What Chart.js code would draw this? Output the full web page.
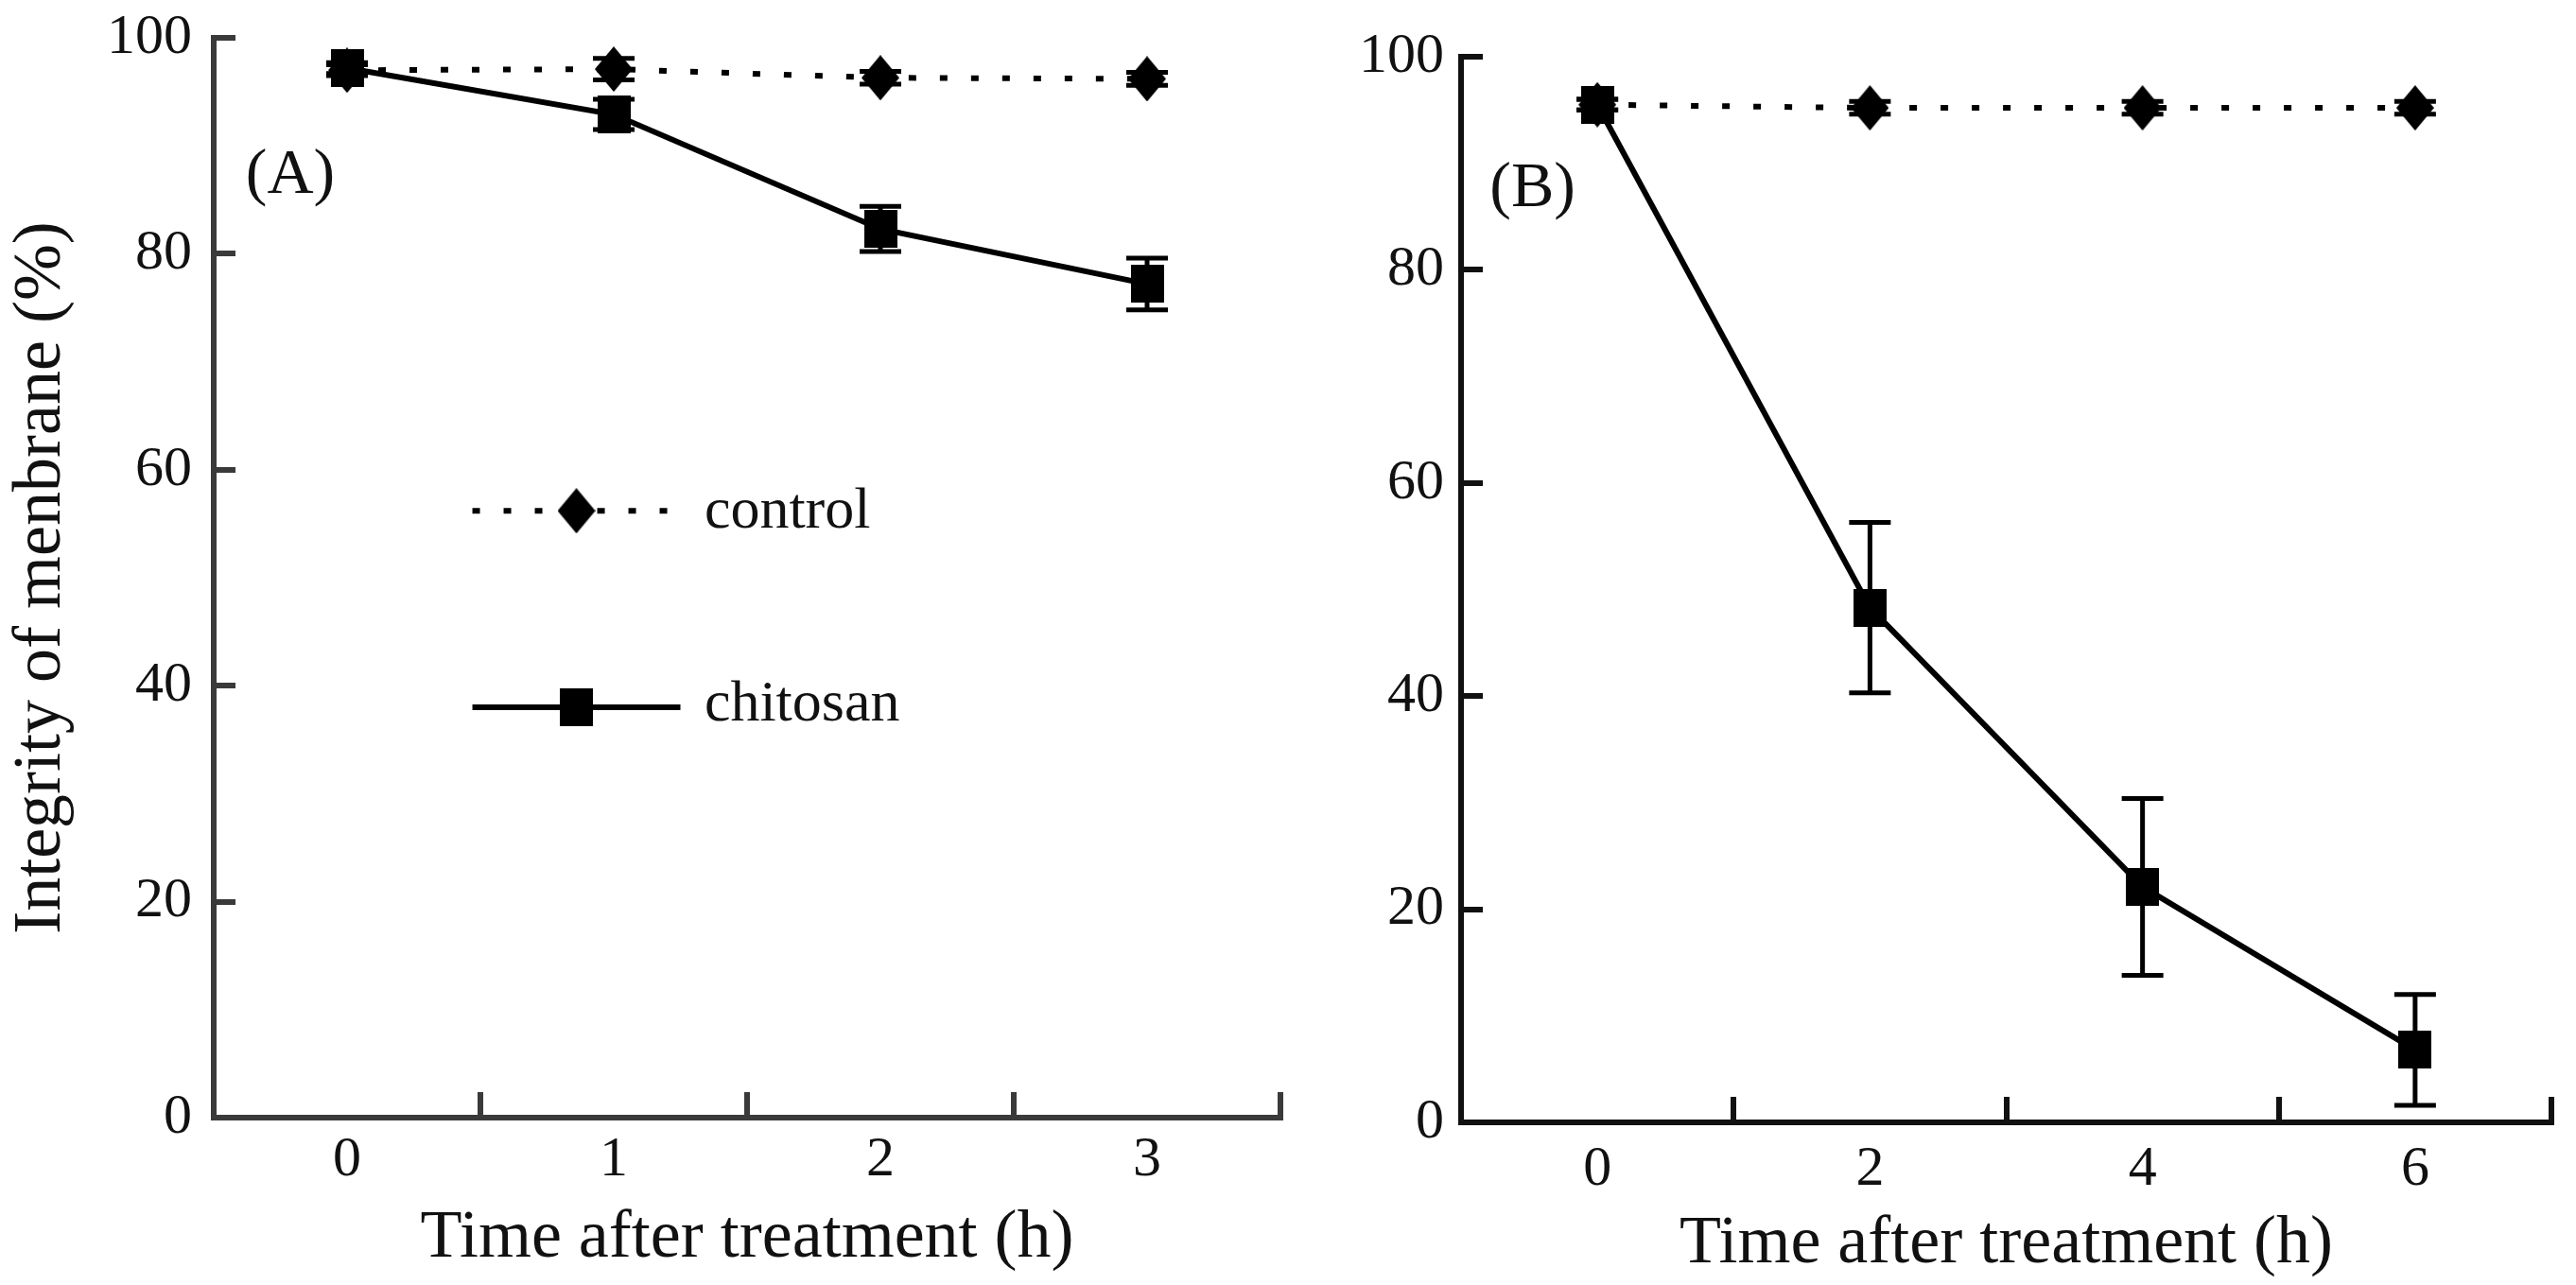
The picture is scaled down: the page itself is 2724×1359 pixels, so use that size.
<!DOCTYPE html>
<html>
<head>
<meta charset="utf-8">
<title>Integrity of membrane</title>
<script src="https://cdn.jsdelivr.net/npm/chart.js@4.4.1/dist/chart.umd.min.js"></script>
<style>
  html, body { margin: 0; padding: 0; background: #fff; }
  body { width: 2724px; height: 1359px; position: relative; overflow: hidden; }
  .panel { position: absolute; top: 0; height: 1359px; }
  #panelA { left: 0; width: 1380px; }
  #panelB { left: 1380px; width: 1344px; }
</style>
</head>
<body>
<div class="panel" id="panelA"><canvas id="chartA"></canvas></div>
<div class="panel" id="panelB"><canvas id="chartB"></canvas></div>
<script>
// (A) 0 ~ 3 h
const hoursA = [0, 1, 2, 3];
const controlA = [97.0, 97.1, 96.3, 96.2];
const controlErrA = [0.5, 1.0, 0.6, 0.6];
const chitosanA = [97.2, 92.9, 82.3, 77.2];
const chitosanErrA = [0.5, 1.4, 2.1, 2.4];

// (B) 0 ~ 6 h
const hoursB = [0, 2, 4, 6];
const controlB = [95.5, 95.2, 95.2, 95.2];
const controlErrB = [0.5, 0.6, 0.6, 0.6];
const chitosanB = [95.5, 48.3, 22.1, 6.8];
const chitosanErrB = [0.5, 8.0, 8.3, 5.2];

const yTicks = [0, 20, 40, 60, 80, 100];
const seriesNames = ['control', 'chitosan'];
const xTitle = 'Time after treatment (h)';
const yTitle = 'Integrity of menbrane (%)';

Chart.defaults.font.family = '"Liberation Serif", "Times New Roman", serif';
Chart.defaults.color = '#111';

document.addEventListener("DOMContentLoaded", function () {
	panel_a_chart();
	panel_b_chart();
});

function toPoints(xs, ys) {
  return xs.map(function (x, i) { return { x: x, y: ys[i] }; });
}

// black marker drawn once, used as pointStyle
function makeMarker(shape, w, h) {
  const c = document.createElement('canvas');
  c.width = w; c.height = h;
  const g = c.getContext('2d');
  g.fillStyle = '#000';
  if (shape === 'square') {
    g.fillRect(0, 0, w, h);
  } else {
    g.beginPath();
    g.moveTo(w / 2, 0); g.lineTo(w, h / 2); g.lineTo(w / 2, h); g.lineTo(0, h / 2);
    g.closePath(); g.fill();
  }
  return c;
}
const diamond = makeMarker('diamond', 40, 48);
const square = makeMarker('square', 35, 40);

// error bars (value +- err) with caps
const errorBars = {
  id: 'errorBars',
  afterDatasetsDraw(chart, args, opts) {
    const ctx = chart.ctx, ys = chart.scales.y;
    ctx.save();
    ctx.strokeStyle = '#000';
    ctx.lineWidth = 5;
    chart.data.datasets.forEach(function (ds, i) {
      if (!ds.errors) return;
      chart.getDatasetMeta(i).data.forEach(function (pt, j) {
        const v = ds.data[j].y, e = ds.errors[j];
        const y1 = ys.getPixelForValue(v + e), y2 = ys.getPixelForValue(v - e);
        ctx.beginPath();
        ctx.moveTo(pt.x, y1); ctx.lineTo(pt.x, y2);
        ctx.moveTo(pt.x - 22, y1); ctx.lineTo(pt.x + 22, y1);
        ctx.moveTo(pt.x - 22, y2); ctx.lineTo(pt.x + 22, y2);
        ctx.stroke();
      });
    });
    ctx.restore();
  }
};

// in-plot key (line sample + marker + name) and panel tag
const plotKey = {
  id: 'plotKey',
  afterDraw(chart, args, opts) {
    const ctx = chart.ctx, xs = chart.scales.x, ys = chart.scales.y;
    ctx.save();
    (opts.rows || []).forEach(function (row) {
      const ds = chart.data.datasets[row.dataset];
      const y = ys.getPixelForValue(row.y);
      ctx.strokeStyle = ds.borderColor;
      ctx.lineWidth = ds.borderWidth;
      ctx.setLineDash(ds.borderDash || []);
      ctx.beginPath();
      ctx.moveTo(xs.getPixelForValue(opts.from), y);
      ctx.lineTo(xs.getPixelForValue(opts.to), y);
      ctx.stroke();
      ctx.setLineDash([]);
      const img = ds.pointStyle, xm = xs.getPixelForValue(opts.mark);
      ctx.drawImage(img, xm - img.width / 2, y - img.height / 2);
      ctx.font = '62px "Liberation Serif", "Times New Roman", serif';
      ctx.fillStyle = '#111';
      ctx.textBaseline = 'alphabetic';
      ctx.fillText(ds.label, xs.getPixelForValue(opts.text), ys.getPixelForValue(row.textY));
    });
    if (opts.tag) {
      ctx.font = '68px "Liberation Serif", "Times New Roman", serif';
      ctx.fillStyle = '#111';
      ctx.textBaseline = 'alphabetic';
      ctx.fillText(opts.tag.text, xs.getPixelForValue(opts.tag.x), ys.getPixelForValue(opts.tag.y));
    }
    ctx.restore();
  }
};

function build_panel(id, p) {
  const data = {
    datasets: [{
      label: seriesNames[0],
      data: toPoints(p.hours, p.control),
      errors: p.controlErr,
      borderColor: '#000',
      borderWidth: 6,
      borderDash: [8, 25],
      borderCapStyle: 'butt',
      pointStyle: diamond,
      pointRadius: 20,
      tension: 0,
      order: 1
    }, {
      label: seriesNames[1],
      data: toPoints(p.hours, p.chitosan),
      errors: p.chitosanErr,
      borderColor: '#000',
      borderWidth: 6,
      pointStyle: square,
      pointRadius: 20,
      tension: 0,
      order: 0
    }]
  };

  const options = {
    responsive: true,
    maintainAspectRatio: false,
    animation: false,
    layout: { padding: { left: 0, right: 3, top: p.top, bottom: 0 } },
    plugins: {
      legend: { display: false },
      tooltip: { enabled: false },
      plotKey: p.key
    },
    scales: {
      x: {
        type: 'linear',
        min: p.xMin,
        max: p.xMax,
        afterFit: function (s) { s.height = p.xHeight; s.paddingLeft = 0; s.paddingRight = 0; },
        ticks: {
          stepSize: p.step,
          autoSkip: false,
          maxRotation: 0,
          padding: p.xPad,
          font: { size: 60, lineHeight: 1.2 },
          callback: function (v) { return p.hours.includes(v) ? String(v) : ''; }
        },
        grid: {
          drawOnChartArea: false,
          tickLength: -27,
          lineWidth: 6,
          color: function (c) {
            return (c.tick && p.hours.includes(c.tick.value)) ? 'rgba(0,0,0,0)' : p.axisColor;
          }
        },
        border: { color: p.axisColor, width: 6 },
        title: {
          display: true,
          text: xTitle,
          font: { size: 72, lineHeight: 1.2 },
          padding: { top: 0, bottom: p.titlePad }
        }
      },
      y: {
        min: 0,
        max: 100,
        afterFit: function (s) { s.width = p.yWidth; s.paddingTop = 0; s.paddingBottom = 0; },
        afterBuildTicks: function (s) { s.ticks = yTicks.map(function (v) { return { value: v }; }); },
        ticks: { padding: p.yPad, font: { size: 60, lineHeight: 1.2 } },
        grid: { drawOnChartArea: false, tickLength: -23, lineWidth: 6, color: p.axisColor },
        border: { color: p.axisColor, width: 6 },
        title: {
          display: p.showYTitle,
          text: yTitle,
          font: { size: 72, lineHeight: 1 },
          padding: { top: 8, bottom: 0 }
        }
      }
    }
  };

  new Chart(document.getElementById(id).getContext('2d'), {
    type: 'line',
    data: data,
    options: options,
    plugins: [errorBars, plotKey]
  });
}

// (A)
function panel_a_chart() {
  build_panel('chartA', {
    hours: hoursA, control: controlA, controlErr: controlErrA,
    chitosan: chitosanA, chitosanErr: chitosanErrA,
    xMin: -0.5, xMax: 3.5, step: 0.5,
    top: 40, xHeight: 177, yWidth: 226,
    xPad: 36, yPad: 46, titlePad: 6,
    axisColor: '#3a3a3a', showYTitle: true,
    key: {
      from: 0.47, to: 1.25, mark: 0.86, text: 1.34,
      rows: [
        { dataset: 0, y: 56.2, textY: 54.6 },
        { dataset: 1, y: 38.0, textY: 36.8 }
      ],
      tag: { text: '(A)', x: -0.38, y: 85.6 }
    }
  });
}

// (B)
function panel_b_chart() {
  build_panel('chartB', {
    hours: hoursB, control: controlB, controlErr: controlErrB,
    chitosan: chitosanB, chitosanErr: chitosanErrB,
    xMin: -1, xMax: 7, step: 1,
    top: 60, xHeight: 172, yWidth: 165,
    xPad: 41, yPad: 41, titlePad: 0,
    axisColor: '#111', showYTitle: false,
    key: {
      tag: { text: '(B)', x: -0.79, y: 86.0 }
    }
  });
}
</script>
</body>
</html>
